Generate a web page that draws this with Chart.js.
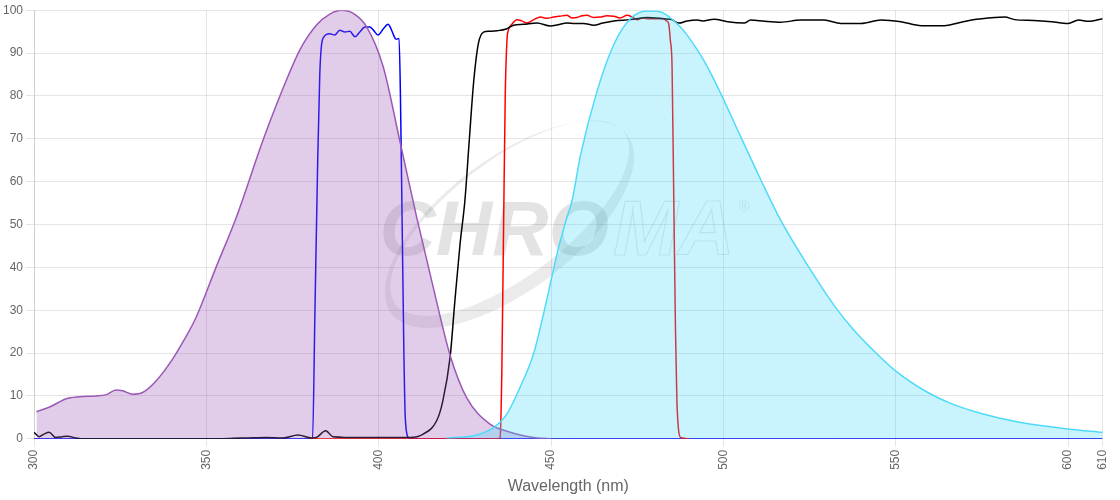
<!DOCTYPE html>
<html>
<head>
<meta charset="utf-8">
<script src="https://cdn.jsdelivr.net/npm/chart.js@4.4.0/dist/chart.umd.min.js"></script>
<style>
  html, body { margin: 0; padding: 0; background: #fff; }
  #wrap { width: 1120px; height: 500px; }
</style>
</head>
<body>
<div id="wrap"><canvas id="chartSpectra" width="1120" height="500"></canvas></div>
<script>
// x axis labels (nm)
const xTicks = [300, 350, 400, 450, 500, 550, 600, 610];

// excitation spectrum (purple, filled)
const exNm  = [300.7, 305, 309.2, 313.1, 317.9, 321, 323.8, 325.7, 328.6, 331.5, 335.4, 340.2, 343.5, 347, 352.8, 358.7, 366.4, 371.2, 377.1, 381.9, 385.8, 389.2, 392.5, 396.5, 401.3, 406.1, 411, 415.8, 420.7, 425.5, 432.3, 437, 442, 446, 450];
const exVal = [6.3, 7.6, 9.3, 9.8, 10.0, 10.3, 11.4, 11.2, 10.4, 10.8, 13.5, 18.6, 23, 28.3, 40.0, 51.7, 69.6, 79.7, 90.7, 96.5, 99.1, 100, 99.3, 96.1, 86.8, 69.6, 51.7, 35.4, 19.5, 9.6, 3.4, 1.8, 0.7, 0.2, 0];

// excitation filter (blue)
const exFiltNm  = [300, 380.8, 381.5, 382.3, 382.9, 383.3, 383.8, 385.8, 387.2, 388.7, 390.2, 391.6, 393.1, 394.5, 396, 397.4, 398.5, 399.8, 401.3, 402.7, 403.6, 404.4, 405, 405.9, 406.3, 406.8, 407.3, 407.7, 408.6, 409.5, 610];
const exFiltVal = [0, 0, 30, 65, 85, 91, 93.4, 94.5, 94.2, 95.3, 94.9, 95.1, 93.8, 94.9, 96.1, 96.1, 95.3, 94.2, 95.6, 96.7, 95.6, 94, 93.2, 93.4, 80, 50, 20, 5, 0.3, 0, 0];

// dichroic (black)
const dichNm  = [300, 301.5, 302.9, 304.4, 306.3, 308.2, 309.7, 312.1, 315, 330, 350, 357.7, 362, 367.4, 372.2, 376.6, 380.5, 381.9, 384.6, 386.7, 395, 405, 409.1, 412.9, 416.8, 418.5, 420.7, 422.1, 423.6, 425, 426.3, 427.5, 428.9, 430.4, 432, 434.3, 437, 439.1, 442, 445.9, 449.8, 452, 454.6, 457, 459.4, 462.4, 465, 468.2, 473, 477.9, 482.7, 485, 487.1, 489.5, 492.4, 494, 497.3, 501.2, 506, 507.9, 512, 516.6, 522.5, 529.2, 534.1, 539.9, 545.7, 551.5, 557.4, 564.1, 568, 572, 578.7, 581.6, 584.5, 590, 595.2, 600, 603, 605.9, 610];
const dichVal = [1.5, 0.5, 1.1, 1.5, 0.3, 0.5, 0.6, 0.2, 0, 0, 0, 0.1, 0.2, 0.3, 0.2, 0.9, 0.2, 0.3, 1.9, 0.5, 0.3, 0.3, 0.3, 1.1, 4.2, 8.5, 19.0, 32.2, 45.5, 55.6, 70, 82.9, 92.2, 94.9, 95.1, 95.2, 95.6, 96.5, 96.7, 97.0, 96.3, 96.6, 97.0, 96.9, 96.9, 96.5, 97.0, 97.5, 97.8, 98.3, 98.0, 97.8, 97.0, 97.5, 97.7, 97.5, 97.9, 97.3, 97.0, 97.7, 97.4, 97.2, 97.7, 97.7, 96.9, 96.9, 97.7, 97.3, 96.4, 96.4, 97.0, 97.7, 98.3, 98.4, 97.8, 97.6, 97.3, 96.9, 97.7, 97.4, 98.0];

// emission filter (red)
const emFiltNm  = [380, 400, 434.5, 435.2, 435.7, 436.2, 436.7, 437.2, 437.6, 438.6, 440.1, 441.5, 443, 445, 446.9, 448.8, 450.7, 452.5, 454.6, 456, 457.5, 459, 460.4, 462.3, 464.3, 466.2, 468.2, 470, 472.1, 473.5, 475, 476.5, 477.9, 480.3, 482.7, 483.5, 484.1, 484.6, 485.1, 485.6, 486.1, 486.5, 487, 487.6, 490];
const emFiltVal = [0, 0, 0, 0.3, 15, 47.8, 80, 93, 95.3, 96.7, 97.8, 97.5, 97.0, 97.8, 98.4, 98.1, 98.4, 98.6, 98.8, 98.2, 98.3, 98.7, 98.8, 98.3, 98.4, 98.7, 98.6, 98.2, 98.8, 98.4, 97.8, 98.2, 98.0, 98.0, 98.0, 97.5, 96.9, 93, 86.8, 55.6, 25, 8.9, 2, 0.3, 0];

// emission spectrum (cyan, filled)
const emNm  = [419.7, 427.5, 433.3, 437.2, 441, 444.9, 447.8, 450.2, 452.2, 454.6, 456.1, 458.5, 463.3, 468.2, 473, 477.9, 481.8, 484.5, 487.6, 490, 493.4, 496, 499.2, 505, 510.8, 516.6, 524.4, 532.2, 538, 544.8, 550, 559.3, 566.1, 574.8, 585.5, 600, 610];
const emVal = [0.2, 0.7, 2.6, 5.8, 12.0, 19.8, 29.1, 37.7, 44.7, 51.7, 55.6, 66, 81, 92, 98.0, 99.8, 99.6, 98.3, 96.0, 93.6, 89.5, 85.8, 80.6, 70.5, 60.5, 51.0, 40.5, 31.0, 25.2, 19.6, 15.8, 10.8, 8.2, 5.9, 3.9, 2.3, 1.5];

const pts = (xs, ys) => xs.map((x, i) => ({ x, y: ys[i] }));

// faint logo behind the curves
const watermark = {
  id: 'watermark',
  beforeDatasetsDraw(chart) {
    const { ctx, chartArea: a } = chart;
    const w = a.right - a.left, h = a.bottom - a.top;
    const cx = a.left + w * 0.445, cy = a.top + h * 0.5;
    ctx.save();
    ctx.fillStyle = 'rgba(0,0,0,0.08)';
    ctx.strokeStyle = 'rgba(0,0,0,0.1)';

    // swoosh ring
    ctx.save();
    ctx.translate(cx, cy);
    ctx.rotate(-37 * Math.PI / 180);
    ctx.beginPath();
    ctx.ellipse(0, 0, 148, 66, 0, 0, Math.PI * 2);
    ctx.ellipse(4, -5, 143, 58, 0, 0, Math.PI * 2);
    ctx.fill('evenodd');
    ctx.restore();

    ctx.font = 'italic bold 78px "Liberation Sans", Arial, sans-serif';
    ctx.textBaseline = 'alphabetic';
    const x0 = cx - 130, base = cy + 31;
    ctx.fillStyle = 'rgba(0,0,0,0.11)';
    ctx.fillText('CHRO', x0, base);
    const wC = ctx.measureText('CHRO').width;
    ctx.lineWidth = 1.2;
    ctx.strokeText('MA', x0 + wC + 4, base);
    const wM = ctx.measureText('MA').width;
    ctx.font = '15px "Liberation Sans", Arial, sans-serif';
    ctx.fillText('\u00AE', x0 + wC + wM + 8, base - 44);
    ctx.restore();
  }
};

const line = (data, color, order, extra) => Object.assign({
  data, borderColor: color, borderWidth: 1.5, pointRadius: 0,
  cubicInterpolationMode: 'monotone', fill: false, order
}, extra || {});

new Chart(document.getElementById('chartSpectra'), {
  type: 'line',
  data: {
    datasets: [
      line(pts(emNm, emVal), 'rgb(80,218,250)', 1, { fill: 'origin', backgroundColor: 'rgba(60,215,250,0.28)' }),
      line(pts(exNm, exVal), 'rgb(155,89,182)', 2, { fill: 'origin', backgroundColor: 'rgba(155,89,182,0.3)' }),
      line(pts(dichNm, dichVal), '#000000', 3),
      line(pts(emFiltNm, emFiltVal), '#ff0000', 4),
      line(pts(exFiltNm, exFiltVal), '#0000ff', 5)
    ]
  },
  options: {
    responsive: false,
    animation: false,
    layout: { padding: { right: 12 } },
    plugins: { legend: { display: false }, tooltip: { enabled: false } },
    scales: {
      x: {
        type: 'linear', min: 300, max: 610,
        afterBuildTicks: axis => { axis.ticks = xTicks.map(v => ({ value: v })); },
        ticks: { minRotation: 90, maxRotation: 90, color: '#666', font: { size: 12 } },
        title: { display: true, text: 'Wavelength (nm)', color: '#666', font: { size: 16 } }
      },
      y: {
        min: 0, max: 100,
        ticks: { stepSize: 10, color: '#666', font: { size: 12 } }
      }
    }
  },
  plugins: [watermark]
});
</script>
</body>
</html>
